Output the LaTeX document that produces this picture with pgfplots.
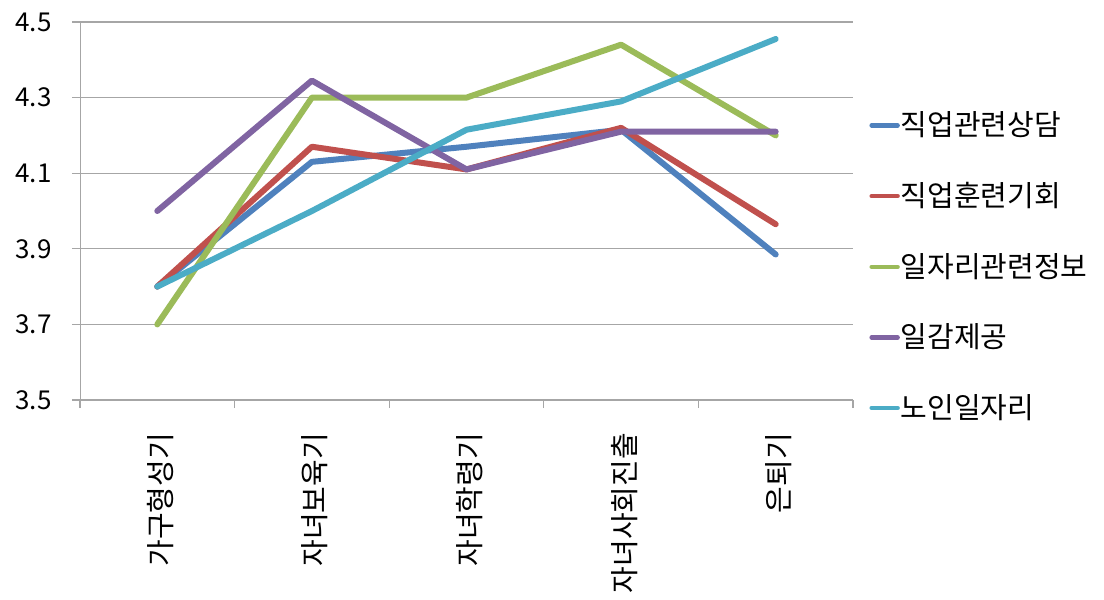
\documentclass[border=0pt]{standalone}
\usepackage{pgfplots}
\pgfplotsset{compat=1.18}
\usepackage{fontspec}
\setmainfont{Noto Sans CJK KR}
\definecolor{c1}{HTML}{4F81BD}
\definecolor{c2}{HTML}{C0504D}
\definecolor{c3}{HTML}{9BBB59}
\definecolor{c4}{HTML}{8064A2}
\definecolor{c5}{HTML}{4BACC6}
\definecolor{gridc}{HTML}{A6A6A6}
\begin{document}
\begin{tikzpicture}
\useasboundingbox (-40pt,-100pt) rectangle (512pt,200pt);
\begin{axis}[
  at={(0,0)}, anchor=south west,
  scale only axis, width=386.5pt, height=189pt,
  xmin=-0.5, xmax=4.5, ymin=3.5, ymax=4.5,
  axis x line*=bottom, axis y line*=left,
  axis line style={gridc, -},
  xtick={0,1,2,3,4},
  xticklabels={가구형성기,자녀보육기,자녀학령기,자녀사회진출,은퇴기},
  minor xtick={-0.5,0.5,1.5,2.5,3.5,4.5},
  ytick={3.5,3.7,3.9,4.1,4.3,4.5},
  yticklabels={3.5,3.7,3.9,4.1,4.3,4.5},
  ymajorgrids, grid style={gridc, line width=0.6pt},
  tick align=outside,
  major x tick style={draw=none},
  minor x tick style={gridc, line width=0.6pt},
  major y tick style={gridc, line width=0.6pt},
  major tick length=4pt, minor tick length=4pt,
  yticklabel style={font=\fontsize{13}{13}\selectfont, anchor=east, inner sep=0pt, xshift=-10pt},
  xticklabel style={font=\fontsize{14.5}{14.5}\selectfont, rotate=90, anchor=east, xshift=-9pt, yshift=-1.5pt},
  every axis plot/.append style={line width=3pt, line cap=round, line join=round},
  legend style={at={(axis description cs:1.013,0.774)}, anchor=north west, draw=none, fill=none,
    font=\fontsize{14.5}{15}\selectfont, row sep=21.8pt,
    nodes={inner xsep=0.5pt, inner ysep=0pt}},
  legend cell align=left,
  legend image code/.code={\draw[#1, line width=2.2pt, line cap=round] (0pt,0pt) -- (13pt,0pt);},
]
\addplot[c1] coordinates {(0,3.80) (1,4.13) (2,4.17) (3,4.215) (4,3.885)};
\addlegendentry{직업관련상담}
\addplot[c2] coordinates {(0,3.80) (1,4.17) (2,4.11) (3,4.22) (4,3.965)};
\addlegendentry{직업훈련기회}
\addplot[c3] coordinates {(0,3.70) (1,4.30) (2,4.30) (3,4.44) (4,4.20)};
\addlegendentry{일자리관련정보}
\addplot[c4] coordinates {(0,4.00) (1,4.345) (2,4.11) (3,4.21) (4,4.21)};
\addlegendentry{일감제공}
\addplot[c5] coordinates {(0,3.80) (1,4.00) (2,4.215) (3,4.29) (4,4.455)};
\addlegendentry{노인일자리}
\end{axis}
\end{tikzpicture}
\end{document}
